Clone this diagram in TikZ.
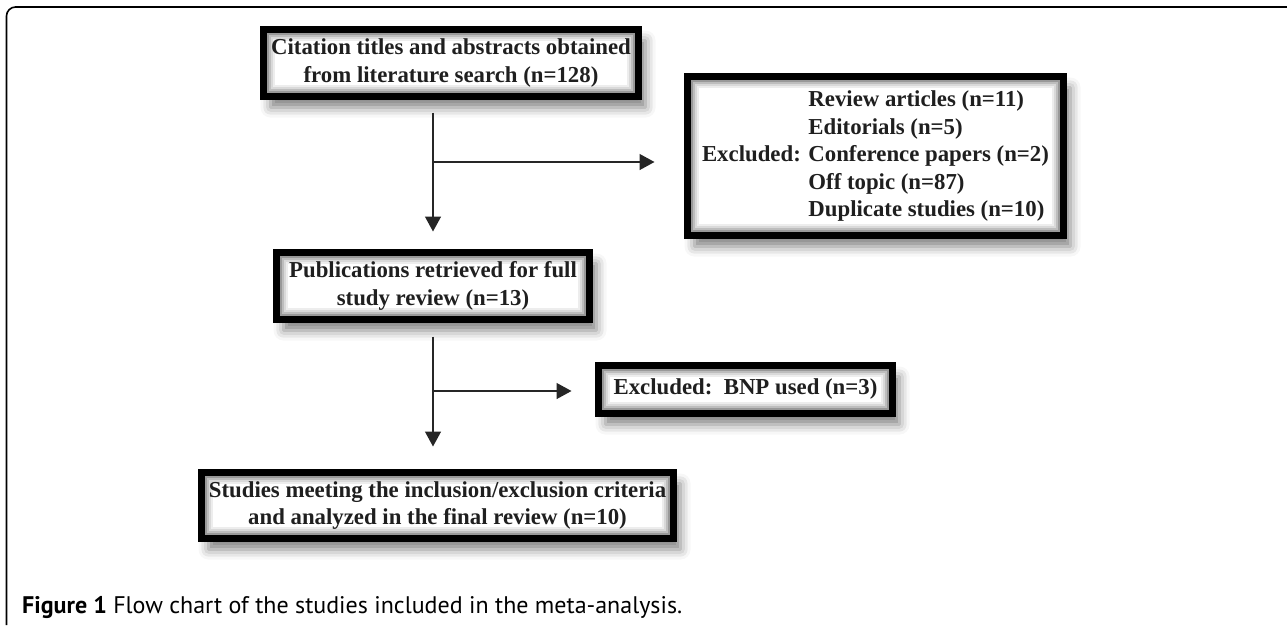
\documentclass[tikz,border=0pt]{standalone}
\usepackage{fontspec}
\setmainfont{Liberation Serif}
\newfontfamily\capfont{PT Sans}
\usetikzlibrary{arrows.meta,shadows.blur}
\begin{document}
\begin{tikzpicture}[x=1pt,y=-1pt,
  glow/.style={path picture={
    \foreach \i/\c in {4.5/40,6.5/26,8.5/15,10.5/7}{
      \draw[black!\c, line width=2pt]
        ([shift={(\i pt,-\i pt)}]path picture bounding box.north west) rectangle
        ([shift={(-\i pt,\i pt)}]path picture bounding box.south east);
    }}},
  box/.style={draw=black, line width=7pt, fill=white, inner sep=0pt, align=center,
    font=\fontsize{22.8}{27.5}\selectfont\bfseries, text=black!88,
    blur shadow={shadow xshift=7pt, shadow yshift=-11pt, shadow blur radius=10pt, shadow opacity=50},
    glow},
  arr/.style={line width=1.4pt, draw=black!85, -{Triangle[length=15pt,width=16pt]}},
  frame/.style={line width=1.6pt, rounded corners=9pt}
]
\useasboundingbox (0,0) rectangle (1287,625);
\draw[frame] (6.5,625) -- (6.5,7) -- (1287,7);

\node[box, minimum width=375pt, minimum height=67pt] (b1) at (451,63)
  {Citation titles and abstracts obtained\\from literature search (n=128)};
\node[box, minimum width=376pt, minimum height=159pt] (b2) at (875.5,156)
  {\begin{tabular}{@{}r@{ }l@{}}
   & Review articles (n=11)\\
   & Editorials (n=5)\\
   Excluded: & Conference papers (n=2)\\
   & Off topic (n=87)\\
   & Duplicate studies (n=10)
   \end{tabular}};
\node[box, minimum width=313pt, minimum height=67pt] (b3) at (433,286)
  {Publications retrieved for full\\study review (n=13)};
\node[box, minimum width=294pt, minimum height=48pt] (b4) at (745.5,389.5)
  {Excluded:\ \ BNP used (n=3)};
\node[box, minimum width=472pt, minimum height=66pt] (b5) at (437.5,505.5)
  {Studies meeting the inclusion/exclusion criteria\\and analyzed in the final review (n=10)};

\coordinate (t1) at (433,162);
\coordinate (t2) at (433,391);
\draw[arr, shorten <=12.5pt, shorten >=17.5pt] (b1.south -| b3.north) -- (b3.north);
\draw[arr, shorten >=29.5pt] (t1) -- (t1 -| b2.west);
\draw[arr, shorten <=13.5pt, shorten >=22.5pt] (b3.south) -- (b5.north -| b3.south);
\draw[arr, shorten >=23.5pt] (t2) -- (t2 -| b4.west);

\node[anchor=base west, inner sep=0pt, font=\capfont\fontsize{24}{28}\selectfont] (cap) at (22,613)
  {\textbf{Figure 1} Flow chart of the studies included in the meta-analysis.};
\end{tikzpicture}
\end{document}
